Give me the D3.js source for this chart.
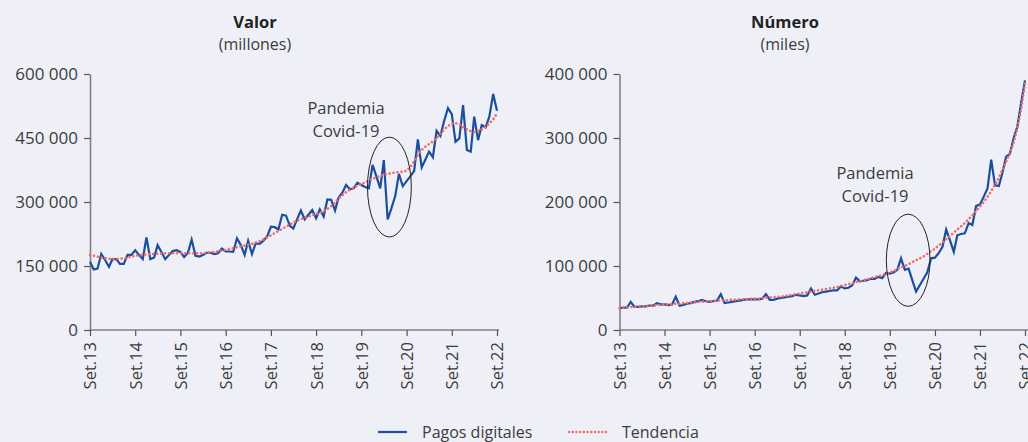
<!DOCTYPE html>
<html><head><meta charset="utf-8">
<script src="https://cdn.jsdelivr.net/npm/d3@7"></script>
<style>
html,body{margin:0;padding:0;background:#eff0f7;}
svg{display:block;font-family:"Open Sans","Noto Sans",sans-serif;}
</style></head><body>
<svg id="chart" width="1028" height="442"></svg>
<script>
// ---- data (monthly, Sep 2013 .. Sep 2022) ----
const startMonth = [2013, 8];   // Sep 2013
const endMonth = [2022, 8];     // Sep 2022
const tickLabels = ["Set.13","Set.14","Set.15","Set.16","Set.17","Set.18","Set.19","Set.20","Set.21","Set.22"];

// Valor (millones), in thousands
const valorPagos = [160,142,144,178,
 164,148,166,166,155,155,176,176,187,176,166,217,
 166,170,199,183,166,176,185,187,183,171,181,212,
 174,172,176,181,181,178,180,191,184,184,183,215,
 199,176,209,178,203,202,209,219,242,241,236,270,
 268,244,238,260,280,259,270,281,262,283,266,306,
 305,280,310,322,340,330,332,345,340,335,332,387,
 360,332,398,259,285,314,366,337,349,360,373,447,
 381,400,418,405,467,455,490,520,506,441,449,527,
 422,418,500,445,480,475,500,553,514];
const valorTendencia = [176,174,172,170,
 168,167,166,166,167,168,170,172,174,175,176,177,
 178,178,179,179,180,180,180,180,180,180,180,180,
 180,180,180,181,182,183,184,186,188,190,192,194,
 196,198,200,202,205,208,212,217,222,227,232,237,
 242,247,252,256,260,263,266,269,272,275,279,284,
 290,299,308,316,323,329,334,338,342,346,350,354,
 358,361,364,366,368,369,370,371,373,382,395,410,
 422,430,436,442,450,460,470,478,484,485,482,476,
 470,466,464,466,470,476,484,494,508];

// Número (miles), in thousands
const numeroPagos = [34,35,35,44,
 36,36,37,37,38,38,42,40,40,39,40,52,
 38,39,41,42,44,45,47,45,44,45,46,56,
 42,43,44,45,46,47,48,48,48,48,49,56,
 47,47,49,50,51,52,53,55,54,53,54,65,
 55,57,59,60,61,62,62,68,65,66,70,82,
 76,77,78,80,80,83,81,89,88,90,94,112,
 94,96,78,60,70,80,90,112,113,120,130,157,
 140,122,148,150,151,167,164,194,196,208,221,266,
 226,225,245,271,275,300,318,355,390];
const numeroTendencia = [34,35,35,36,
 36,37,37,37,38,38,39,39,40,40,40,41,
 41,42,42,43,43,44,44,45,45,45,46,46,
 46,47,47,47,48,48,48,49,49,49,50,50,
 51,51,52,52,53,54,55,56,57,58,59,60,
 61,62,63,64,65,66,67,69,70,72,73,75,
 76,78,79,81,83,84,86,88,90,92,95,98,
 100,103,106,109,112,115,119,123,127,132,137,142,
 147,152,157,162,167,173,179,186,193,200,208,217,
 227,238,250,263,277,293,315,345,385];

const valorTicks = [0,150000,300000,450000,600000];
const numeroTicks = [0,100000,200000,300000,400000];

// annotation (pandemic ellipse)
const valorCovid = {month: 80.6, value: 335000, rxMonths: 5.9, ryValue: 117000};
const numeroCovid = {month: 78, value: 109000, rxMonths: 5.9, ryValue: 72000};

// ---- drawing ----
const months = d3.timeMonth.range(new Date(startMonth[0], startMonth[1], 1), new Date(endMonth[0], endMonth[1] + 1, 1));
const yearTicks = tickLabels.map((_, k) => months[k * 12]);

const svg = d3.select("#chart");
const BLUE = "#1b4f9c", RED = "#f26b6b", TXT = "#3c3c3c", AX = "#808080";
const fmt = d => d3.format(",")(d).replace(/,/g, " ");

function panel(opts) {
  const x = d3.scaleTime().domain([months[0], months[months.length - 1]]).range([opts.x0, opts.x1]);
  const y = d3.scaleLinear().domain([0, opts.ticks[opts.ticks.length - 1]]).range([330, 74]);
  const g = svg.append("g");

  g.append("text").attr("x", opts.cx).attr("y", 28).attr("text-anchor", "middle")
    .attr("font-size", 16.5).attr("font-weight", 700).attr("fill", "#222").text(opts.title);
  g.append("text").attr("x", opts.cx).attr("y", 50).attr("text-anchor", "middle")
    .attr("font-size", 16).attr("fill", TXT).text(opts.sub);

  const ya = g.append("g").attr("transform", `translate(${opts.x0},0)`)
    .call(d3.axisLeft(y).tickValues(opts.ticks).tickFormat(fmt).tickSize(6).tickSizeOuter(0).tickPadding(6));
  ya.select(".domain").attr("stroke", AX).attr("stroke-width", 1.6);
  ya.selectAll(".tick line").attr("stroke", "#555").attr("stroke-width", 1.2);
  ya.selectAll("text").attr("font-size", 17).attr("fill", TXT).attr("font-family", "Open Sans");

  const xa = g.append("g").attr("transform", "translate(0,330)")
    .call(d3.axisBottom(x).tickValues(yearTicks).tickFormat((d, k) => tickLabels[k]).tickSize(6).tickSizeOuter(0));
  xa.select(".domain").attr("stroke", AX).attr("stroke-width", 1.6)
    .attr("d", `M${opts.x0},0H${opts.xAxisEnd}`);
  xa.selectAll(".tick line").attr("stroke", "#555").attr("stroke-width", 1.2);
  xa.selectAll("text").attr("font-size", 16.5).attr("fill", TXT).attr("font-family", "Open Sans")
    .attr("transform", "rotate(-90)").attr("text-anchor", "end")
    .attr("x", -12).attr("y", 0).attr("dy", "0.36em");

  const line = d3.line().x((d, i) => x(months[i])).y(d => y(d * 1000));
  g.append("path").datum(opts.pagos).attr("d", line).attr("fill", "none")
    .attr("stroke", BLUE).attr("stroke-width", 2.2).attr("stroke-linejoin", "miter");
  g.append("path").datum(opts.tend).attr("d", line).attr("fill", "none")
    .attr("stroke", RED).attr("stroke-width", 2.6).attr("stroke-linecap", "round")
    .attr("stroke-dasharray", "0.1,3.9");

  const c = opts.covid;
  const mw = x(months[1]) - x(months[0]);
  const cx = x(months[0]) + c.month * mw;
  g.append("ellipse").attr("cx", cx).attr("cy", y(c.value)).attr("rx", c.rxMonths * mw)
    .attr("ry", y(0) - y(c.ryValue)).attr("fill", "none").attr("stroke", "#222").attr("stroke-width", 1);
  g.append("text").attr("x", opts.labX).attr("y", opts.labY).attr("text-anchor", "middle")
    .attr("font-size", 16.5).attr("fill", TXT)
    .selectAll("tspan").data(["Pandemia", "Covid-19"]).join("tspan")
    .attr("x", opts.labX).attr("dy", (d, i) => i ? 23 : 0).text(d => d);
}

panel({x0: 90, x1: 497, xAxisEnd: 499, cx: 255, title: "Valor", sub: "(millones)", ticks: valorTicks,
  pagos: valorPagos, tend: valorTendencia, covid: valorCovid, labX: 346, labY: 114});
panel({x0: 619.5, x1: 1025, xAxisEnd: 1028, cx: 785, title: "Número", sub: "(miles)", ticks: numeroTicks,
  pagos: numeroPagos, tend: numeroTendencia, covid: numeroCovid, labX: 875, labY: 179});

const lg = svg.append("g").attr("font-size", 16).attr("fill", TXT);
lg.append("line").attr("x1", 378).attr("x2", 407).attr("y1", 432).attr("y2", 432).attr("stroke", BLUE).attr("stroke-width", 2.2);
lg.append("text").attr("x", 422).attr("y", 438).text("Pagos digitales");
lg.append("line").attr("x1", 569).attr("x2", 607).attr("y1", 432).attr("y2", 432).attr("stroke", RED)
  .attr("stroke-width", 2.4).attr("stroke-linecap", "round").attr("stroke-dasharray", "0.1,3.6");
lg.append("text").attr("x", 622).attr("y", 438).text("Tendencia");
</script>
</body></html>
